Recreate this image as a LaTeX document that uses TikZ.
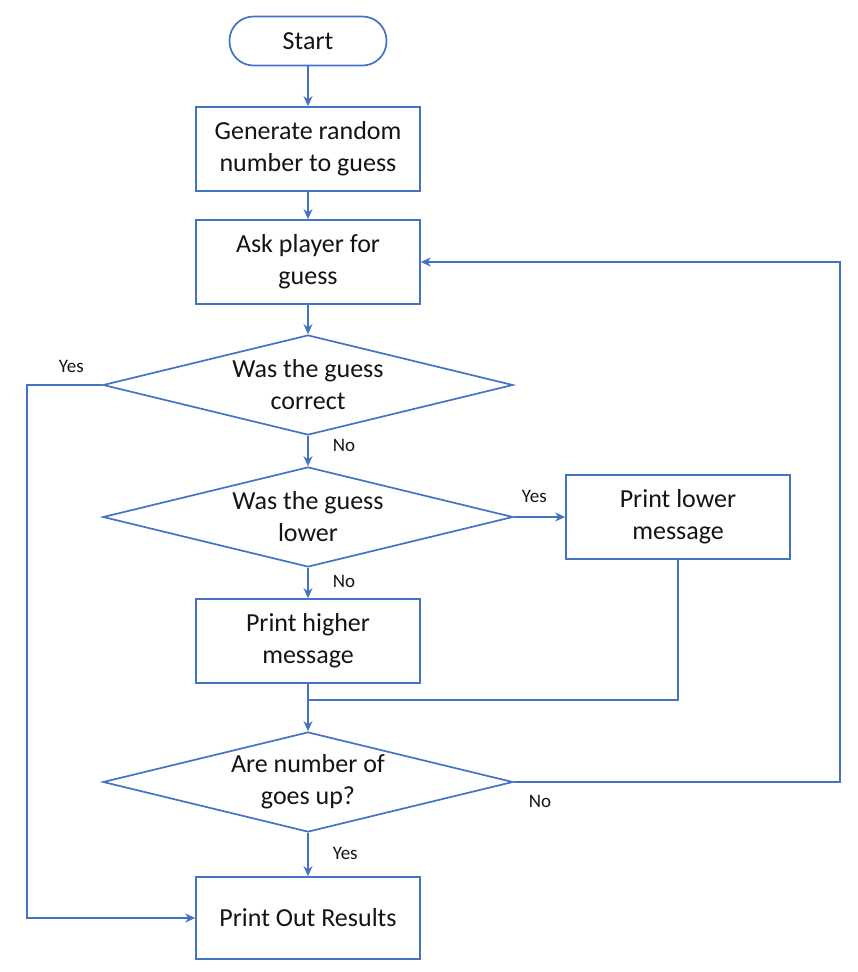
\documentclass[tikz,border=0pt]{standalone}
\usepackage{fontspec}
\setmainfont{Carlito}
\usepackage{tikz}
\usetikzlibrary{shapes.geometric, positioning, arrows.meta}
\definecolor{flowblue}{RGB}{68,114,196}
\definecolor{flowtext}{RGB}{20,20,20}
\newcommand\boxwidth{224pt}
\newcommand\boxheight{84pt}
\tikzset{flowchart/.style = {rectangle, minimum width=\boxwidth, minimum height=\boxheight, text centered, align=center, draw=flowblue, line width=1.7pt, text=flowtext, font=\fontsize{26}{32}\selectfont, inner sep=2pt}}
\tikzset{terminal/.style = {flowchart, rounded corners=24pt, minimum width=157pt, minimum height=49pt}}
\tikzset{decision/.style = {flowchart, diamond, aspect=4, inner sep=0pt, minimum width=410pt, minimum height=100pt}}
\tikzset{connector/.style={line width=1.7pt, draw=flowblue}}
\tikzset{arrow/.style={connector, ->, >={Stealth[length=10pt,width=9pt]}}}
\tikzset{answer/.style={font=\fontsize{19}{22}\selectfont, text=flowtext, inner sep=1pt}}

\begin{document}
\begin{tikzpicture}[x=1pt, y=-1pt]
\useasboundingbox (0,0) rectangle (857,972);
\node[terminal] (start) at (308,41) {Start};
\node[flowchart] (gen) at (308,149) {Generate random\\number to guess};
\node[flowchart] (ask) at (308,262) {Ask player for\\guess};
\node[decision] (correct) at (308,385) {Was the guess\\correct};
\node[decision] (lowerq) at (308,517) {Was the guess\\lower};
\node[flowchart] (lower) at (678,517) {Print lower\\message};
\node[flowchart] (higher) at (308,641) {Print higher\\message};
\node[decision] (goes) at (308,782) {Are number of\\goes up?};
\node[flowchart, minimum height=82pt] (results) at (308,918) {Print Out Results};
\coordinate (merge) at (308,700);
\coordinate (leftrail) at (27,0);
\coordinate (rightrail) at (840,0);
% straight down the middle
\foreach \a/\b in {start/gen, gen/ask, ask/correct, higher/goes}
	\draw[arrow] (\a) -- (\b);
\draw[arrow] (correct) -- node[answer, pos=0.31, right=23pt] {No} (lowerq);
\draw[arrow] (lowerq) -- node[answer, pos=0.45, right=23pt] {No} (higher);
\draw[arrow] (goes) -- node[answer, pos=0.47, right=23pt] {Yes} (results);
\draw[arrow] (lowerq) -- node[answer, pos=0.4, above=13pt] {Yes} (lower);
\draw[connector] (lower.south) |- (merge);
%\draw[arrow] (merge) -- (goes);
\draw[arrow] (correct.west) -- node[answer, pos=0.41, above=11pt] {Yes} (correct.west -| leftrail) |- (results.west);
\draw[arrow] (goes.east) -- node[answer, pos=0.08, below=11pt] {No} (goes.east -| rightrail) |- (ask.east);
\end{tikzpicture}
\end{document}
